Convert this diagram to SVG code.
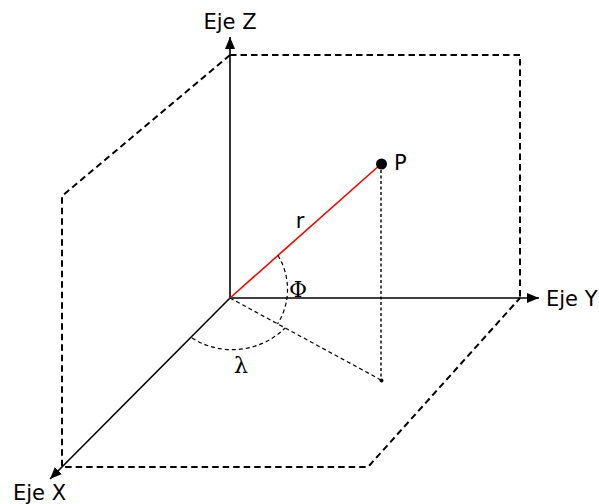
<svg xmlns="http://www.w3.org/2000/svg" width="599" height="504" viewBox="0 0 599 504">
<style>
.box{fill:none;stroke:#000;stroke-width:2;stroke-dasharray:6.5,4}
.axis{fill:none;stroke:#000;stroke-width:1.6}
.thin{fill:none;stroke:#000;stroke-width:1.2;stroke-dasharray:4,3}
.dot{fill:none;stroke:#000;stroke-width:1.4;stroke-dasharray:3,2.5}
.lbl{font-family:"DejaVu Sans",sans-serif;font-size:21px;fill:#000}
.greek{font-family:"DejaVu Serif","Liberation Serif",serif;font-size:22px;fill:#000}
</style>
<defs>
<marker id="arr" viewBox="0 0 12 10" refX="12" refY="5" markerWidth="12" markerHeight="10" markerUnits="userSpaceOnUse" orient="auto">
<path d="M0,0 L12,5 L0,10 z" fill="#000"/>
</marker>
</defs>
<rect width="599" height="504" fill="#fff"/>
<g id="frame">
<path class="box" d="M230,55 L520,55 L520,298"/>
<path class="box" d="M230,55 L62,196 L62,467 L368,467 L520,298"/>
</g>
<g id="connectors">
<line class="axis" x1="230" y1="298" x2="230" y2="37" marker-end="url(#arr)"/>
<line class="axis" x1="230" y1="298" x2="539" y2="298" stroke-width="2" marker-end="url(#arr)"/>
<line class="axis" x1="230" y1="298" x2="50" y2="479" marker-end="url(#arr)"/>
<line x1="230" y1="298" x2="381" y2="164" stroke="#ff0000" stroke-width="1.6"/>
<line class="dot" x1="381" y1="170" x2="381" y2="380"/>
<line class="thin" x1="230" y1="298" x2="381" y2="380"/>
<path class="thin" d="M278,255.5 A65,65 0 0 1 277.5,324"/>
<path class="thin" d="M192,338 A75,75 0 0 0 285,328"/>
</g>
<g id="point-P">
<circle cx="381.5" cy="164" r="5.5" fill="#000"/>
<text class="lbl" x="394" y="170">P</text>
</g>
<g id="projection">
<circle cx="381.5" cy="380.5" r="2" fill="#000"/>
</g>
<g id="labels">
<text class="lbl" x="230" y="29" text-anchor="middle">Eje Z</text>
<text class="lbl" x="546" y="306">Eje Y</text>
<text class="lbl" x="13" y="500">Eje X</text>
<text class="lbl" x="300" y="228" text-anchor="middle" font-size="20">r</text>
<text class="greek" x="298" y="297" text-anchor="middle">Φ</text>
<text class="greek" x="241" y="373" text-anchor="middle" font-size="24">λ</text>
</g>
</svg>
